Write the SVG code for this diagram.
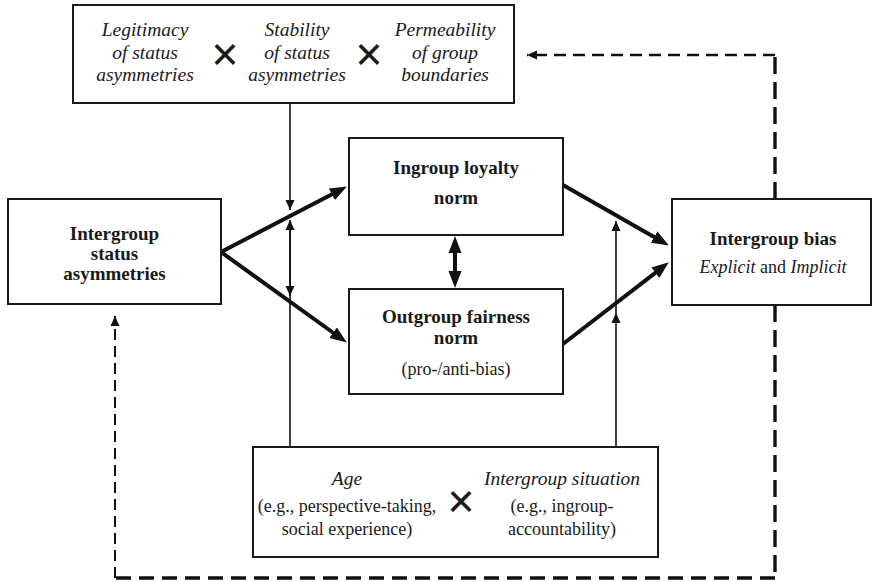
<svg xmlns="http://www.w3.org/2000/svg" width="872" height="582" viewBox="0 0 872 582">
<defs>
<style>
.box{fill:#fff;stroke:#1a1a1a;stroke-width:2}
.t{font-family:"Times New Roman",Times,Tinos,"Liberation Serif","Noto Serif","DejaVu Serif",FreeSerif,serif;fill:#1a1a1a;text-anchor:middle}
.b{font-weight:bold;font-size:19px}
.i{font-style:italic;font-size:19.5px}
.r{font-size:18px}
.x{font-family:Arial,"Liberation Sans",sans-serif;font-size:46px;fill:#1a1a1a;text-anchor:middle;stroke:#1a1a1a;stroke-width:0.3}
.thick{stroke:#111;stroke-width:4;fill:none}
.thin{stroke:#111;stroke-width:1.6;fill:none}
</style>
<marker id="big" markerUnits="userSpaceOnUse" markerWidth="18" markerHeight="14" refX="4" refY="6.5" orient="auto-start-reverse" viewBox="0 0 18 13">
<path d="M0,0 L17,6.5 L0,13 z" fill="#111"/>
</marker>
<marker id="sm" markerUnits="userSpaceOnUse" markerWidth="11" markerHeight="10" refX="10" refY="4.5" orient="auto" viewBox="0 0 11 9">
<path d="M0,0 L10,4.5 L0,9 z" fill="#111"/>
</marker>
</defs>
<rect width="872" height="582" fill="#fff"/>

<g id="connectors">
<path class="thick" d="M221,252 L335.4,192.5" marker-end="url(#big)"/>
<path class="thick" d="M221,252 L336.3,335" marker-end="url(#big)"/>
<path class="thick" d="M563,185 L657.6,239" marker-end="url(#big)"/>
<path class="thick" d="M563,344 L658.5,270.3" marker-end="url(#big)"/>
<path class="thick" d="M455,249 L455,275" marker-start="url(#big)" marker-end="url(#big)"/>
<path class="thin" d="M290,103 V210" marker-end="url(#sm)"/>
<path class="thin" d="M290,230 V296" marker-end="url(#sm)"/>
<path class="thin" d="M290,447 V220" marker-end="url(#sm)"/>
<path class="thin" d="M616,447 V313" marker-end="url(#sm)"/>
<path class="thin" d="M616,313 V221" marker-end="url(#sm)"/>
<path d="M775,199 V55" stroke="#111" stroke-width="3.4" stroke-dasharray="17 8" fill="none"/>
<path d="M775,55 H527" stroke="#111" stroke-width="2.6" stroke-dasharray="12 7" fill="none" marker-end="url(#sm)"/>
<path d="M775,305 V578" stroke="#111" stroke-width="3.4" stroke-dasharray="17 8" fill="none"/>
<path d="M775,578 H115" stroke="#111" stroke-width="3.4" stroke-dasharray="15 8" fill="none"/>
<path d="M115,578 V316" stroke="#111" stroke-width="2" stroke-dasharray="11 6" fill="none" marker-end="url(#sm)"/>
</g>

<g id="moderators-top">
<rect class="box" x="73" y="5" width="441" height="98"/>
<text class="t i" x="145" y="36">Legitimacy</text>
<text class="t i" x="145" y="58.5">of status</text>
<text class="t i" x="145" y="81">asymmetries</text>
<text class="x" x="225" y="70">×</text>
<text class="t i" x="297" y="36">Stability</text>
<text class="t i" x="297" y="58.5">of status</text>
<text class="t i" x="297" y="81">asymmetries</text>
<text class="x" x="369" y="70">×</text>
<text class="t i" x="445" y="36">Permeability</text>
<text class="t i" x="445" y="58.5">of group</text>
<text class="t i" x="445" y="81">boundaries</text>
</g>

<g id="status">
<rect class="box" x="8" y="199" width="213" height="105"/>
<text class="t b" x="114.5" y="240">Intergroup</text>
<text class="t b" x="114.5" y="260">status</text>
<text class="t b" x="114.5" y="280">asymmetries</text>
</g>

<g id="ingroup">
<rect class="box" x="349" y="138" width="214" height="97"/>
<text class="t b" x="456" y="174">Ingroup loyalty</text>
<text class="t b" x="456" y="204">norm</text>
</g>

<g id="outgroup">
<rect class="box" x="349" y="289" width="214" height="105"/>
<text class="t b" x="456" y="323">Outgroup fairness</text>
<text class="t b" x="456" y="344">norm</text>
<text class="t r" x="456" y="375">(pro-/anti-bias)</text>
</g>

<g id="bias">
<rect class="box" x="672" y="199" width="199" height="106"/>
<text class="t b" x="773" y="245">Intergroup bias</text>
<text class="t r" x="773" y="273"><tspan font-style="italic">Explicit</tspan> and <tspan font-style="italic">Implicit</tspan></text>
</g>

<g id="moderators-bottom">
<rect class="box" x="253" y="447" width="405" height="110"/>
<text class="t i" x="347" y="485">Age</text>
<text class="t r" x="347" y="512">(e.g., perspective-taking,</text>
<text class="t r" x="347" y="535">social experience)</text>
<text class="x" x="461" y="517">×</text>
<text class="t i" x="562" y="485">Intergroup situation</text>
<text class="t r" x="562" y="512">(e.g., ingroup-</text>
<text class="t r" x="562" y="535">accountability)</text>
</g>
</svg>
